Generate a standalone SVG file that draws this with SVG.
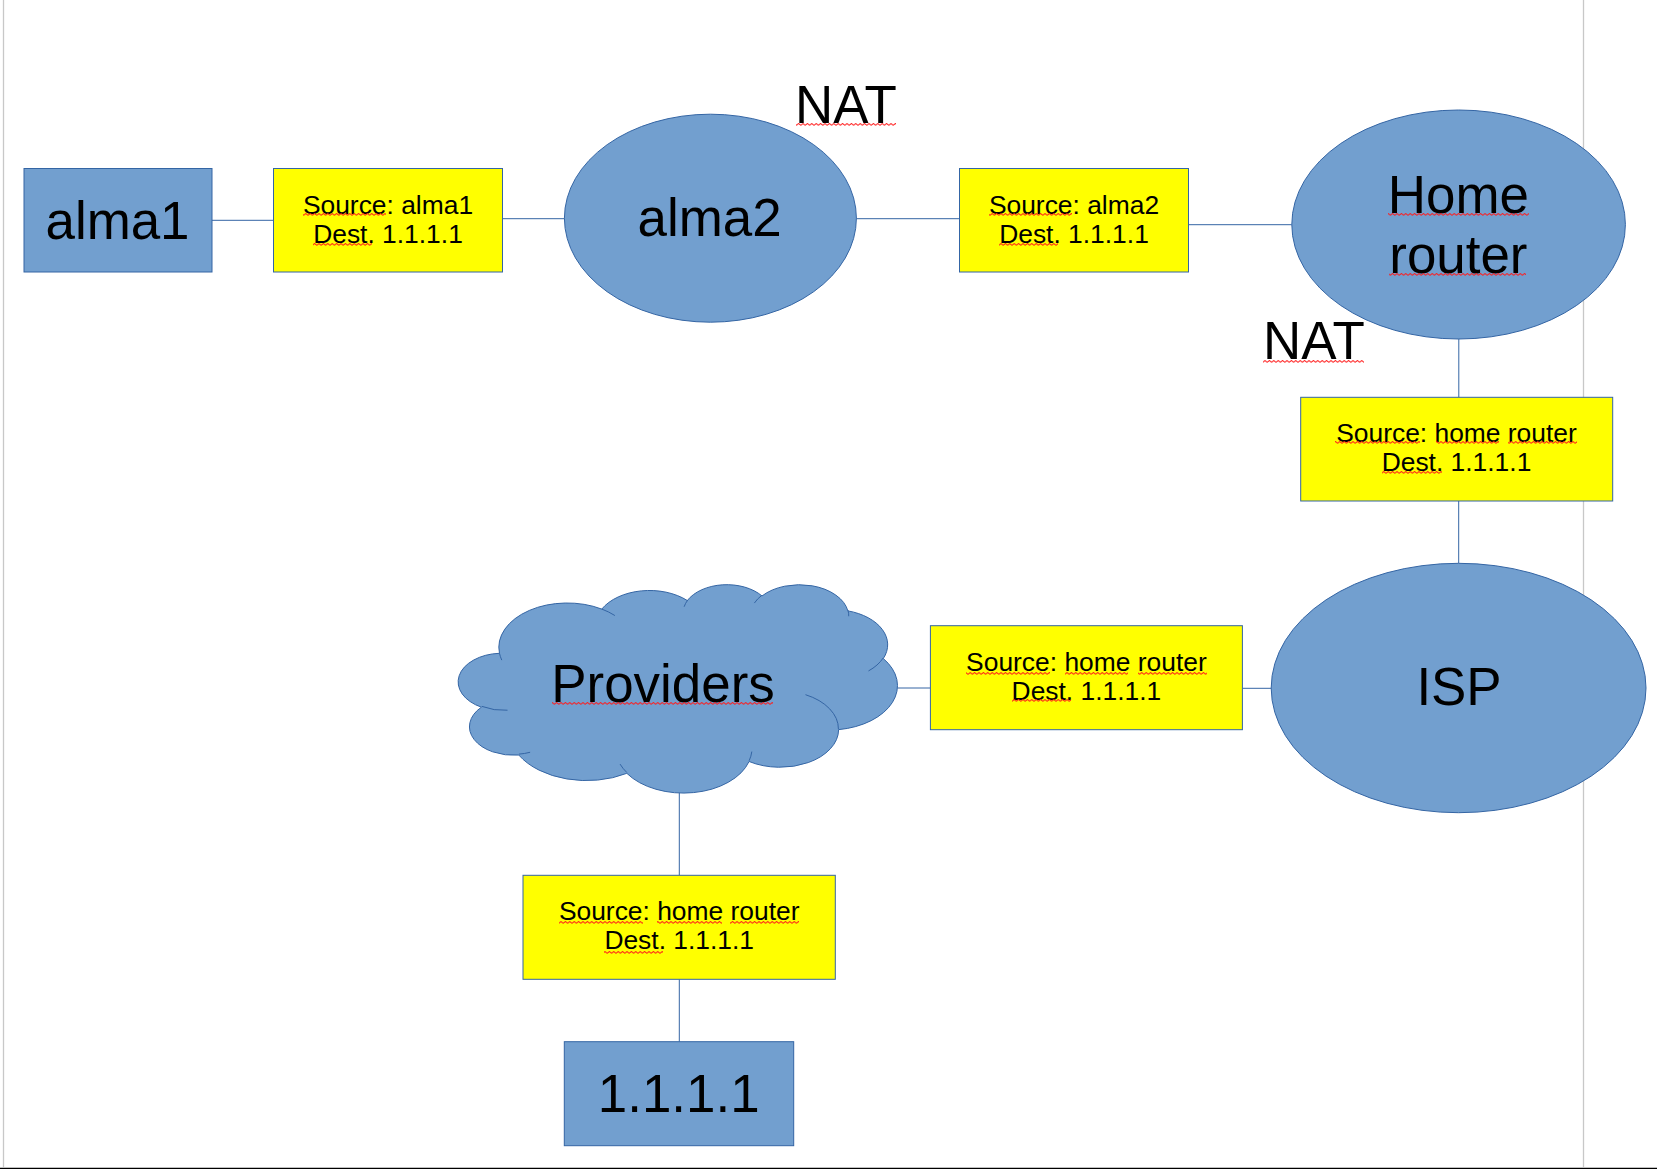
<svg xmlns="http://www.w3.org/2000/svg" width="1657" height="1169" viewBox="0 0 1657 1169">
  <defs>
    <style>
      .shape { fill: #729fcf; stroke: #3465a4; stroke-width: 1; }
      .label { fill: #ffff00; stroke: #3465a4; stroke-width: 1; }
      .conn { stroke: #3465a4; stroke-width: 1; fill: none; }
      .big { font-family: "Liberation Sans", Arial, sans-serif; font-size: 52.9px; fill: #000; text-anchor: middle; }
      .small { font-family: "Liberation Sans", Arial, sans-serif; font-size: 26.4px; fill: #000; text-anchor: middle; }
      .sq { fill: url(#squiggle); }
    </style>
    <pattern id="squiggle" patternUnits="userSpaceOnUse" width="4.4" height="3">
      <path d="M0,2.5 L2.2,0.5 L4.4,2.5" fill="none" stroke="#ff1a1a" stroke-width="1"/>
    </pattern>
  </defs>

  <rect width="1657" height="1169" fill="#ffffff"/>
  <g id="page">
    <line x1="3.5" y1="0" x2="3.5" y2="1167" stroke="#c8c8c8" stroke-width="1.3"/>
    <line x1="1583.5" y1="0" x2="1583.5" y2="1167" stroke="#c8c8c8" stroke-width="1.3"/>
    <line x1="0" y1="1168.4" x2="1657" y2="1168.4" stroke="#000000" stroke-width="1.5"/>
  </g>

  <g id="connectors">
    <line class="conn" x1="211.8" y1="220.3" x2="273.5" y2="220.3"/>
    <line class="conn" x1="502.5" y1="218.7" x2="564.4" y2="218.7"/>
    <line class="conn" x1="856.4" y1="218.7" x2="959.5" y2="218.7"/>
    <line class="conn" x1="1188.5" y1="224.7" x2="1291.8" y2="224.7"/>
    <line class="conn" x1="1458.8" y1="339" x2="1458.8" y2="397.3"/>
    <line class="conn" x1="1458.7" y1="501" x2="1458.7" y2="563.3"/>
    <line class="conn" x1="1242.4" y1="688.3" x2="1271.2" y2="688.3"/>
    <line class="conn" x1="897.3" y1="688" x2="930.4" y2="688"/>
    <line class="conn" x1="679.3" y1="792.5" x2="679.3" y2="875.3"/>
    <line class="conn" x1="679.3" y1="979.3" x2="679.3" y2="1041.7"/>
  </g>

  <g id="alma1">
    <rect class="shape" x="24" y="168.5" width="188" height="103.5"/>
    <text class="big" x="117.5" y="239">alma1</text>
  </g>

  <g id="packet1">
    <rect class="label" x="273.5" y="168.5" width="229" height="103.5"/>
    <text class="small" x="388" y="213.5">Source: alma1</text>
    <text class="small" x="388" y="242.8">Dest. 1.1.1.1</text>
    <rect class="sq" x="303" y="213" width="83" height="3"/>
    <rect class="sq" x="313" y="243" width="59" height="3"/>
  </g>

  <g id="alma2">
    <ellipse class="shape" cx="710.4" cy="218.2" rx="146" ry="104"/>
    <text class="big" x="709.6" y="235.7">alma2</text>
  </g>

  <g id="nat1">
    <text class="big" x="846" y="123.3">NAT</text>
    <rect class="sq" x="796" y="123" width="100" height="3"/>
  </g>

  <g id="packet2">
    <rect class="label" x="959.5" y="168.5" width="229" height="103.5"/>
    <text class="small" x="1074" y="213.5">Source: alma2</text>
    <text class="small" x="1074" y="242.8">Dest. 1.1.1.1</text>
    <rect class="sq" x="989" y="213" width="83" height="3"/>
    <rect class="sq" x="999" y="243" width="59" height="3"/>
  </g>

  <g id="home-router">
    <ellipse class="shape" cx="1458.6" cy="224.5" rx="166.8" ry="114.5"/>
    <text class="big" x="1458.4" y="213.3">Home</text>
    <text class="big" x="1458.4" y="272.7">router</text>
    <rect class="sq" x="1388" y="213" width="141" height="3"/>
    <rect class="sq" x="1389" y="273" width="137" height="3"/>
  </g>

  <g id="nat2">
    <text class="big" x="1314" y="359.3">NAT</text>
    <rect class="sq" x="1263" y="360" width="101" height="3"/>
  </g>

  <g id="packet3">
    <rect class="label" x="1300.7" y="397.3" width="312" height="103.7"/>
    <text class="small" x="1456.5" y="442.3">Source: home router</text>
    <text class="small" x="1456.5" y="471.3">Dest. 1.1.1.1</text>
    <rect class="sq" x="1335" y="441" width="85" height="3"/>
    <rect class="sq" x="1436" y="441" width="63" height="3"/>
    <rect class="sq" x="1508" y="441" width="69" height="3"/>
    <rect class="sq" x="1382" y="471" width="60" height="3"/>
  </g>

  <g id="isp">
    <ellipse class="shape" cx="1458.6" cy="688" rx="187.4" ry="124.7"/>
    <text class="big" x="1459" y="705.3">ISP</text>
  </g>

  <g id="packet4">
    <rect class="label" x="930.4" y="625.7" width="312" height="104"/>
    <text class="small" x="1086.4" y="671">Source: home router</text>
    <text class="small" x="1086.4" y="699.5">Dest. 1.1.1.1</text>
    <rect class="sq" x="966" y="672" width="84" height="3"/>
    <rect class="sq" x="1065" y="672" width="63" height="3"/>
    <rect class="sq" x="1138" y="672" width="69" height="3"/>
    <rect class="sq" x="1012" y="699" width="59" height="3"/>
  </g>

  <g id="providers">
    <path class="shape" d="M499.48,653.29 A68.36,44.31 0 0 1 601.76,609.08 A53.99,35.04 0 0 1 687.32,600.54 A44.19,28.67 0 0 1 761.99,595.95 A49.17,31.80 0 0 1 847.88,610.88 A53.99,35.07 0 0 1 883.31,658.54 A68.58,44.46 0 0 1 838.63,729.63 A58.56,37.93 0 0 1 749.05,761.50 A68.35,44.43 0 0 1 626.82,773.33 A78.15,50.84 0 0 1 518.75,755.04 A44.14,28.54 0 0 1 481.38,707.19 A43.98,28.67 0 0 1 499.48,653.29 Z"/>
    <path class="conn" d="M507.51,710.22 A43.98,28.67 0 0 1 481.86,706.38 M530.13,752.28 A44.14,28.54 0 0 1 518.91,754.13 M626.81,772.49 A68.35,44.43 0 0 1 620.04,764.09 M751.82,751.57 A68.35,44.43 0 0 1 749.12,760.77 M805.49,694.68 A58.56,37.93 0 0 1 838.41,729.09 M883.12,658.04 A53.99,35.07 0 0 1 868.47,670.94 M847.95,610.16 A49.17,31.80 0 0 1 848.73,616.26 M754.36,603.06 A49.17,31.80 0 0 1 761.87,595.28 M684.13,606.76 A44.19,28.67 0 0 1 687.76,600.06 M601.72,609.04 A68.36,44.31 0 0 1 614.89,615.54 M501.78,660.13 A68.36,44.31 0 0 1 499.49,653.30"/>
    <text class="big" x="663" y="701.7">Providers</text>
    <rect class="sq" x="552" y="702" width="221" height="3"/>
  </g>

  <g id="packet5">
    <rect class="label" x="523" y="875.3" width="312.3" height="104"/>
    <text class="small" x="679.2" y="919.5">Source: home router</text>
    <text class="small" x="679.2" y="949.3">Dest. 1.1.1.1</text>
    <rect class="sq" x="559" y="921" width="84" height="3"/>
    <rect class="sq" x="657" y="921" width="65" height="3"/>
    <rect class="sq" x="730" y="921" width="69" height="3"/>
    <rect class="sq" x="604" y="951" width="59" height="3"/>
  </g>

  <g id="dest-1111">
    <rect class="shape" x="564.3" y="1041.7" width="229.4" height="104"/>
    <text class="big" x="678.7" y="1112.3">1.1.1.1</text>
  </g>
</svg>
